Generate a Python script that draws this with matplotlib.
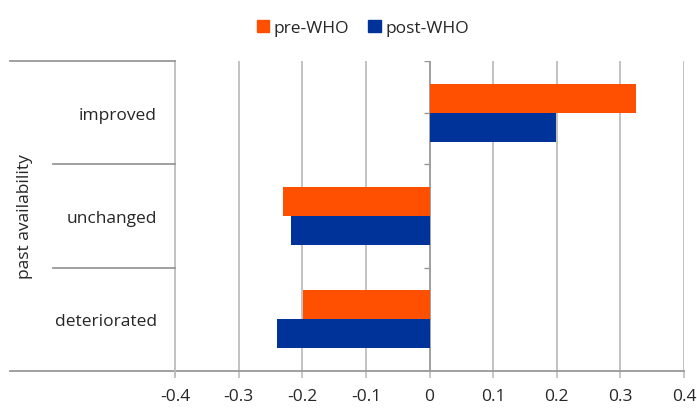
import matplotlib.pyplot as plt
import numpy as np
from matplotlib.lines import Line2D
from matplotlib.patches import Patch
from matplotlib.transforms import blended_transform_factory

plt.rcParams["font.family"] = ["Open Sans", "DejaVu Sans"]

categories = ["improved", "unchanged", "deteriorated"]
pre_who = [0.324, -0.230, -0.199]
post_who = [0.199, -0.218, -0.239]
x_ticks = [-0.4, -0.3, -0.2, -0.1, 0, 0.1, 0.2, 0.3, 0.4]
x_tick_labels = ["-0.4", "-0.3", "-0.2", "-0.1", "0", "0.1", "0.2", "0.3", "0.4"]

ORANGE = "#ff4f00"
BLUE = "#003399"
GRID = "#bdbdbd"
AXIS = "#989898"
TEXT = "#262626"

W, H = 697, 410
fig = plt.figure(figsize=(W / 100, H / 100), dpi=100)


def fx(px):
    return px / W


def fy(py):
    return 1 - py / H


ax = fig.add_axes([fx(175), fy(372), fx(684) - fx(175), fy(62) - fy(372)])

centers = np.arange(len(categories)) + 0.5
bar_h = 0.28
ax.barh(centers - bar_h / 2, pre_who, height=bar_h, color=ORANGE, zorder=3, label="pre-WHO")
ax.barh(centers + bar_h / 2, post_who, height=bar_h, color=BLUE, zorder=3, label="post-WHO")

ax.set_xlim(-0.4, 0.4)
ax.set_ylim(len(categories), 0)

# vertical gridlines
for t in x_ticks[1:]:
    ax.axvline(t, color=AXIS if t == 0 else GRID, linewidth=1.3, zorder=1)

# small ticks on the zero (category) axis, every half category
half_pos = np.arange(0, len(categories) + 0.01, 0.5)
ax.hlines(half_pos, -0.009, 0, color=AXIS, linewidth=1, zorder=2)

ax.set_xticks(x_ticks)
ax.set_xticklabels(x_tick_labels)
ax.tick_params(axis="x", length=5, width=1.2, color=GRID, labelsize=12.5,
               labelcolor=TEXT, pad=7)

ax.set_yticks(centers)
ax.set_yticklabels(categories)
ax.tick_params(axis="y", length=0, labelsize=12.5, labelcolor=TEXT, pad=13)

for s in ["top", "right"]:
    ax.spines[s].set_visible(False)
ax.spines["left"].set_color(GRID)
ax.spines["left"].set_linewidth(1.3)
ax.spines["bottom"].set_color(AXIS)
ax.spines["bottom"].set_linewidth(1.3)

# outer category box in the left margin
fig.add_artist(Line2D([fx(10), fx(175)], [fy(62), fy(62)], color=AXIS, linewidth=1.3))
fig.add_artist(Line2D([fx(10), fx(175)], [fy(372), fy(372)], color=AXIS, linewidth=1.3))
fig.add_artist(Line2D([fx(175), fx(175)], [fy(372), fy(377)], color=GRID, linewidth=1.3))
trans = blended_transform_factory(fig.transFigure, ax.transData)
for y in half_pos[2:-1:2]:
    fig.add_artist(Line2D([fx(53), fx(175)], [y, y], transform=trans, color=AXIS, linewidth=1.3))

fig.text(fx(25), fy(217), "past availability", rotation=90, ha="center", va="center",
         fontsize=12.5, color=TEXT)

handles = [Patch(color=ORANGE, label="pre-WHO"), Patch(color=BLUE, label="post-WHO")]
fig.legend(handles=handles, loc="center", bbox_to_anchor=(fx(363), fy(29)), ncol=2,
           frameon=False, fontsize=12.5, handlelength=0.7, handleheight=0.7,
           handletextpad=0.3, columnspacing=1.1, labelcolor=TEXT)

fig.savefig("out.png", dpi=100)
